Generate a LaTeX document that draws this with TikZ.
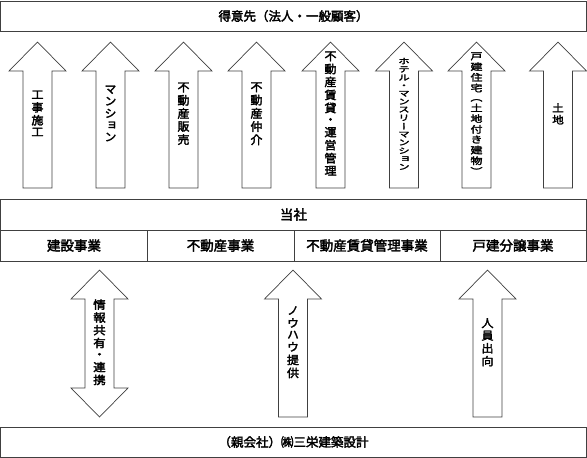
\documentclass[tikz,border=0pt]{standalone}
\usepackage{graphicx}
\usepackage{fontspec}
\setmainfont{Noto Sans CJK JP}
\newfontfamily\jp[FakeBold=2.5]{Noto Sans CJK JP}
\newfontfamily\jpv[RawFeature=+vert,FakeBold=2.5]{Noto Sans CJK JP}
% size, line spacing, vertical squash, text (chars separated by \\)
\newcommand\vt[4]{\scalebox{1}[#3]{\jpv\fontsize{#1}{#2}\selectfont\begin{tabular}{@{}c@{}}#4\end{tabular}}}
\newcommand\hf[1]{\jp\fontsize{#1}{#1}\selectfont}
\tikzset{
  ln/.style={draw=black!75, line width=0.7pt},
  box/.style={ln, fill=white, inner sep=0pt, font=\hf{12.5}},
  cell/.style={box, minimum height=31pt, font=\hf{13.5}},
  blk/.style={ln, fill=white, line join=miter},
  vlab/.style={inner sep=0pt},
}
% name, center x, tip y, bottom y
\newcommand\uparr[4]{%
  \draw[blk] (#2,#3) -- (#2+28.5,#3+29) -- (#2+14.5,#3+29) -- (#2+14.5,#4)
     -- (#2-14.5,#4) -- (#2-14.5,#3+29) -- (#2-28.5,#3+29) -- cycle;
  \coordinate (#1) at (#2,{(#3+#4)/2});
}
% name, center x, top tip y, bottom tip y
\newcommand\duparr[4]{%
  \draw[blk] (#2,#3) -- (#2+28.5,#3+29) -- (#2+14.5,#3+29) -- (#2+14.5,#4-29)
     -- (#2+28.5,#4-29) -- (#2,#4) -- (#2-28.5,#4-29) -- (#2-14.5,#4-29)
     -- (#2-14.5,#3+29) -- (#2-28.5,#3+29) -- cycle;
  \coordinate (#1) at (#2,{(#3+#4)/2});
}
\begin{document}
\begin{tikzpicture}[x=1pt,y=-1pt]
\useasboundingbox (0,0) rectangle (587,458);
% boxes
\node[box, minimum width=586pt, minimum height=30pt] (cust) at (293.5,16) {得意先（法人・一般顧客）};
\node[cell, minimum width=586pt] (self) at (293.5,214.5) {当社};
\node[cell, minimum width=147pt] (b1) at (74,245.5) {建設事業};
\node[cell, minimum width=147pt] (b2) at (220.5,245.5) {不動産事業};
\node[cell, minimum width=146pt] (b3) at (367,245.5) {不動産賃貸管理事業};
\node[cell, minimum width=146pt] (b4) at (513,245.5) {戸建分譲事業};
\node[box, minimum width=586pt, minimum height=30pt] (parent) at (293.5,442) {（親会社）㈱三栄建築設計};
% top arrows
\uparr{a1}{37.5}{42}{188}
\uparr{a2}{110.5}{42}{188}
\uparr{a3}{183.5}{42}{188}
\uparr{a4}{256.5}{42}{188}
\uparr{a5}{330.5}{42}{188}
\uparr{a6}{404}{42}{188}
\uparr{a7}{476.5}{42}{188}
\uparr{a8}{558}{42}{188}
\node[vlab] (t1) at (a1) {\vt{12}{12}{0.94}{工\\事\\施\\工}};
\node[vlab] (t2) at (a2) {\vt{12}{12}{0.97}{マ\\ン\\シ\\ョ\\ン}};
\node[vlab] (t3) at (a3) {\vt{12}{12}{0.97}{不\\動\\産\\販\\売}};
\node[vlab] (t4) at (a4) {\vt{12}{12}{0.97}{不\\動\\産\\仲\\介}};
\node[vlab] (t5) at (a5) {\vt{12}{12}{0.95}{不\\動\\産\\賃\\貸\\・\\運\\営\\管\\理}};
\node[vlab] (t6) at (a6) {\vt{11.5}{11.5}{0.69}{ホ\\テ\\ル\\・\\マ\\ン\\ス\\リ\\ー\\マ\\ン\\シ\\ョ\\ン}};
\node[vlab] (t7) at (a7) {\vt{12}{12}{0.78}{戸\\建\\住\\宅\\（\\土\\地\\付\\き\\建\\物\\）}};
\node[vlab] (t8) at (a8) {\vt{11.5}{11.5}{0.9}{土\\地}};
% bottom arrows
\duparr{c1}{99.5}{270}{417}
\uparr{c2}{293}{270}{417}
\uparr{c3}{487.5}{270}{417}
\node[vlab] (u1) at (c1) {\vt{12.5}{12.5}{0.9}{情\\報\\共\\有\\・\\連\\携}};
\node[vlab] (u2) at (c2) {\vt{12}{12}{0.95}{ノ\\ウ\\ハ\\ウ\\提\\供}};
\node[vlab] (u3) at (c3) {\vt{12}{12}{0.94}{人\\員\\出\\向}};
\end{tikzpicture}
\end{document}
